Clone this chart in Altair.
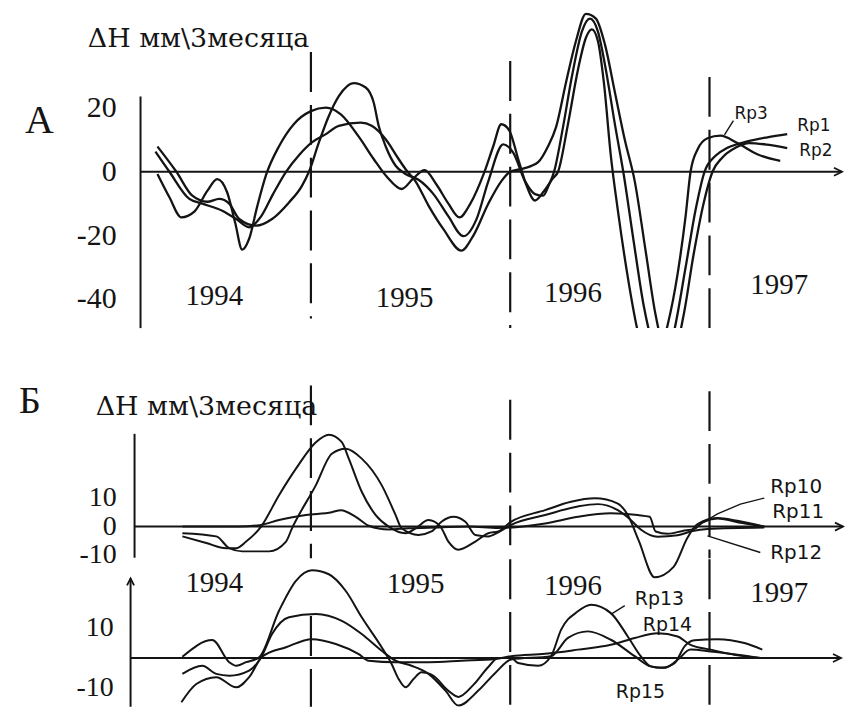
import altair as alt
import pandas as pd

# ---------------- Panel A (Rp1, Rp2, Rp3) ----------------
A_T_RP3 = [1994.23, 1994.29, 1994.35, 1994.415, 1994.48, 1994.53, 1994.58, 1994.62, 1994.655, 1994.69,
           1994.73, 1994.775, 1994.84, 1994.915, 1995.0, 1995.075, 1995.15, 1995.24, 1995.315, 1995.38,
           1995.455, 1995.515, 1995.57, 1995.63, 1995.69, 1995.745, 1995.80, 1995.865, 1995.915, 1995.955,
           1995.995, 1996.04, 1996.08, 1996.125, 1996.17, 1996.215, 1996.24, 1996.29, 1996.34, 1996.38,
           1996.41, 1996.44, 1996.47, 1996.505, 1996.54, 1996.59, 1996.64, 1996.69, 1996.74, 1996.79,
           1996.84, 1996.88, 1996.905, 1996.94, 1996.99, 1997.055, 1997.14, 1997.24, 1997.355]
A_V_RP3 = [-0.7, -8, -14.3, -12.5, -6, -2.3, -6.5, -16, -24.4, -21,
           -11, -1, 8, 15, 19, 20.1, 18, 11, 4, -1.5,
           -5.4, -2, 0.5, -4, -10, -14.3, -10, -1, 8, 14.9,
           13, 4, -4, -9, -6, -2, 0, 15, 32, 42,
           44.6, 41, 28, 5, -12, -33, -50, -60, -58, -48,
           -32, -14, 0, 7, 10.5, 11.3, 9, 5.5, 3.4]

A_T_RP1 = [1994.23, 1994.325, 1994.405, 1994.48, 1994.54, 1994.59, 1994.64, 1994.725, 1994.805, 1994.89,
           1994.955, 1994.99, 1995.04, 1995.09, 1995.14, 1995.215, 1995.275, 1995.315, 1995.34, 1995.375,
           1995.425, 1995.475, 1995.54, 1995.615, 1995.69, 1995.765, 1995.83, 1995.89, 1995.965, 1996.015,
           1996.075, 1996.125, 1996.165, 1996.195, 1996.22, 1996.265, 1996.31, 1996.36, 1996.40, 1996.44,
           1996.48, 1996.525, 1996.57, 1996.62, 1996.67, 1996.72, 1996.765, 1996.815, 1996.88, 1996.93,
           1996.975, 1997.03, 1997.09, 1997.19, 1997.29, 1997.39]
A_V_RP1 = [7.9, 0, -7.5, -9.4, -8.5, -10, -14.8, -16.9, -14.8, -9.6,
           -4.4, 0, 9.2, 17.5, 23.7, 27.8, 26.4, 21.7, 14.4, 8,
           1.9, -0.7, -2.5, -7, -14, -20.2, -15, -3, 8.6, 6,
           -3, -7, -7.5, -4, 0, 14, 30, 44, 48, 44,
           32, 15, -1, -22, -42, -55, -60, -52, -30, -12,
           0, 5, 7.5, 9.5, 10.8, 11.8]

A_T_RP2 = [1994.22, 1994.29, 1994.39, 1994.455, 1994.555, 1994.625, 1994.69, 1994.75, 1994.81, 1994.875,
           1994.94, 1995.005, 1995.075, 1995.14, 1995.25, 1995.305, 1995.375, 1995.44, 1995.475, 1995.525,
           1995.59, 1995.665, 1995.755, 1995.815, 1995.89, 1995.955, 1996.0, 1996.065, 1996.14, 1996.19,
           1996.23, 1996.28, 1996.33, 1996.38, 1996.43, 1996.475, 1996.525, 1996.575, 1996.625, 1996.68,
           1996.73, 1996.78, 1996.83, 1996.87, 1996.92, 1996.97, 1997.015, 1997.065, 1997.13, 1997.20,
           1997.29, 1997.39]
A_V_RP2 = [6.3, 0, -8.5, -10, -12.2, -14.8, -17.4, -14, -7, 0,
           5.2, 9.2, 11.8, 14.4, 15.4, 14.4, 10.2, 4, 0.8, -3,
           -10.6, -18, -24.7, -20, -10, -3, 0, 1, 3, 8,
           14, 28, 41, 49.5, 48, 40, 25, 10, -3, -25,
           -45, -56, -55, -45, -26, -10, 0, 4.5, 7.5, 9,
           8.5, 7.4]

# ---------------- Panel Б upper (Rp10, Rp11, Rp12) ----------------
BU_T_RP12 = [1994.355, 1994.475, 1994.575, 1994.625, 1994.675, 1994.75, 1994.84, 1994.925, 1995.025, 1995.09,
             1995.155, 1995.19, 1995.255, 1995.325, 1995.39, 1995.475, 1995.525, 1995.59, 1995.65, 1995.69,
             1995.74, 1995.825, 1995.89, 1995.94, 1996.005, 1996.175, 1996.305, 1996.425, 1996.54, 1996.59,
             1996.645, 1996.725, 1996.82, 1996.89, 1996.94, 1997.04, 1997.14, 1997.275]
BU_V_RP12 = [-3.4, -5.7, -7.5, -7.5, -5.2, 0, 10.9, 20.1, 29.3, 31.9,
             29.3, 23.6, 12.1, 4, 0, -2.3, -0.6, 2.3, 0, -5.2,
             -8, -5.2, -2.3, -1.7, 1.7, 5.7, 8.6, 9.8, 8, 4,
             -4.9, -17.6, -14, -3.8, 0.9, 3, 2, 0]

BU_T_RP11 = [1994.355, 1994.525, 1994.59, 1994.655, 1994.79, 1994.875, 1994.905, 1995.025, 1995.105, 1995.175,
             1995.255, 1995.355, 1995.425, 1995.455, 1995.54, 1995.605, 1995.655, 1995.715, 1995.775, 1995.825,
             1995.89, 1995.94, 1996.005, 1996.175, 1996.34, 1996.44, 1996.54, 1996.605, 1996.655, 1996.74,
             1996.84, 1996.915, 1996.99, 1997.275]
BU_V_RP11 = [-2.3, -3.4, -7.5, -8.6, -8.6, -5.2, -0.6, 14.4, 25.3, 27,
             23.6, 14.4, 4, -0.6, -2.9, -1.7, 1.7, 3.4, 1.7, -2.9,
             -3.4, -2, 0.6, 4, 7, 7.8, 5.7, 2.3, -1, -3.5,
             -3, -1.5, -0.8, -0.3]

BU_T_RP10 = [1994.355, 1994.64, 1994.75, 1994.84, 1994.975, 1995.105, 1995.15, 1995.225, 1995.29, 1995.39,
             1995.49, 1995.64, 1995.79, 1995.94, 1996.175, 1996.34, 1996.505, 1996.64, 1996.70, 1996.73,
             1996.79, 1996.865, 1996.925, 1996.965, 1997.04, 1997.165, 1997.275]
BU_V_RP10 = [0, 0, 0.6, 2.3, 4, 5, 5.7, 3.4, 0.3, -1,
             -0.6, -0.3, 0, -0.5, 1.1, 3.4, 4.6, 4, 3.4, -1.7,
             -2.5, -1.5, -0.8, 1.5, 2.8, 1.2, 0]

# ---------------- Panel Б lower (Rp13, Rp14, Rp15) ----------------
BL_T_RP13 = [1994.355, 1994.505, 1994.59, 1994.625, 1994.675, 1994.74, 1994.84, 1994.925, 1995.005, 1995.09,
             1995.175, 1995.255, 1995.355, 1995.405, 1995.44, 1995.475, 1995.515, 1995.555, 1995.615, 1995.69,
             1995.74, 1995.815, 1995.89, 1995.94, 1996.005, 1996.04, 1996.14, 1996.205, 1996.255, 1996.34,
             1996.405, 1996.505, 1996.59, 1996.655, 1996.705, 1996.755, 1996.825, 1996.875, 1996.925, 1997.04,
             1997.175, 1997.265]
BL_V_RP13 = [0.4, 6, -1.4, -2.6, -1.4, 0.2, 15.8, 25.8, 29.3, 28,
             22.4, 13.6, 3.6, -2, -7, -9.8, -7, -4.8, -6, -11,
             -13, -9, -3, 0, 0, -1.7, -2.6, 0.6, 9.4, 15.6,
             17.8, 15, 7.2, 0.6, -2.8, -3.3, -1.7, 3.9, 5.9, 6.3,
             5, 2.8]

BL_T_RP15 = [1994.355, 1994.455, 1994.525, 1994.59, 1994.69, 1994.75, 1994.805, 1994.89, 1995.025, 1995.155,
             1995.255, 1995.355, 1995.425, 1995.505, 1995.59, 1995.675, 1995.74, 1995.84, 1995.925, 1996.005,
             1996.205, 1996.29, 1996.39, 1996.505, 1996.625, 1996.705, 1996.775, 1996.84, 1996.905, 1997.005,
             1997.14, 1997.255]
BL_V_RP15 = [-5.3, -2.6, -5.3, -5.9, -4.2, 0.2, 8, 13.6, 14.7, 12.4,
             8, 2.4, -0.9, -2.6, -5.3, -10.9, -15.9, -10.9, -5, -0.5,
             0.6, 6.7, 8.9, 6.1, 0.6, -2.8, -3.3, -0.6, 2.8, 2.2,
             1.1, 0]

BL_T_RP14 = [1994.35, 1994.425, 1994.525, 1994.625, 1994.69, 1994.755, 1994.875, 1995.005, 1995.125, 1995.24,
             1995.29, 1995.425, 1995.59, 1995.755, 1995.925, 1996.005, 1996.175, 1996.34, 1996.505, 1996.625,
             1996.74, 1996.84, 1996.905, 1997.005, 1997.125, 1997.255]
BL_V_RP14 = [-14.8, -8.7, -6.4, -9.8, -6.4, 0.4, 3.6, 6.3, 4.7, 1.3,
             -0.9, -1.4, -1.4, -0.9, -0.3, 0.6, 1.4, 2.8, 4.4, 6.7,
             8.3, 7.2, 4.4, 2.8, 1.1, 0]

# ---------------- Text, year boundaries and frame elements ----------------
YEARS = ["1994", "1995", "1996", "1997"]
A_YEAR_T = [1994.515, 1995.47, 1996.315, 1997.35]
A_YEAR_V = [-39, -39.7, -38.1, -35.6]
B_YEAR_T = [1994.515, 1995.525, 1996.315, 1997.35]
B_YEAR_V = [24.9, 24.6, 23.9, 21.6]

A_TICK_LABELS = ["20", "0", "-20", "-40"]
A_TICK_V = [20, 0, -20, -40]
BU_TICK_LABELS = ["10", "0", "-10"]
BU_TICK_V = [10, 0, -10]
BL_TICK_LABELS = ["10", "-10"]
BL_TICK_V = [10, -10]

BOUNDARY_T = [1995.0, 1996.0, 1997.0]
A_BOUND_TOP = [37.5, 34.7, 29.7]
A_BOUND_BOTTOM = [-46, -49, -49]
BU_BOUND_TOP = [49, 44, 47]
BU_BOUND_BOTTOM = [-11, -11, -11]
BL_BOUND_TOP = [14, 33, 33]
BL_BOUND_BOTTOM = [-16.3, -16.3, -16.3]

A_RP_LABELS = ["Rp3", "Rp1", "Rp2"]
A_RP_T = [1997.125, 1997.44, 1997.45]
A_RP_V = [18.1, 14.4, 6.6]
BU_RP_LABELS = ["Rp10", "Rp11", "Rp12"]
BU_RP_T = [1997.305, 1997.315, 1997.305]
BU_RP_V = [13.6, 4.9, -9.3]
BL_RP_LABELS = ["Rp13", "Rp14", "Rp15"]
BL_RP_T = [1996.625, 1996.665, 1996.53]
BL_RP_V = [19.6, 11.0, -11.3]

UNIT_TITLE = "ΔH мм\\3месяца"

X_DOMAIN = [1994.095, 1997.675]
PLOT_W = 716
INK = "#141414"
SERIF = "Liberation Serif"
TITLE_FONT = "DejaVu Serif, Liberation Serif, serif"


def curves_df(series):
    rows = []
    for name, ts, vs in series:
        for t, v in zip(ts, vs):
            rows.append({"s": name, "t": t, "v": v})
    return pd.DataFrame(rows)


def panel(curves, ydom, height, tick_labels, tick_v, tick_t, label_size, bounds_top, bounds_bottom,
          axis_t, axis_top, axis_bottom, zero_from, zero_to,
          years_t, years_v, rp_labels, rp_t, rp_v, rp_size,
          texts, leaders, up_arrow=None, stroke=2.2, clip=True):
    xs = alt.Scale(domain=X_DOMAIN, nice=False, zero=False)
    ys = alt.Scale(domain=ydom, nice=False, zero=False)
    yaxis = alt.Axis(values=[0], title=None, domain=False, ticks=False, grid=False,
                     labels=False, minExtent=123, maxExtent=123)

    def X(f="t"):
        return alt.X(f"{f}:Q", scale=xs, axis=None)

    def Y(f="v"):
        return alt.Y(f"{f}:Q", scale=ys, axis=yaxis)

    layers = []
    layers.append(
        alt.Chart(curves_df(curves)).mark_line(color=INK, strokeWidth=stroke, interpolate="monotone",
                                               clip=clip)
        .encode(x=X(), y=Y(), detail="s:N")
    )
    bdf = pd.DataFrame({"t": BOUNDARY_T, "v": bounds_top, "v2": bounds_bottom})
    layers.append(
        alt.Chart(bdf).mark_rule(color=INK, strokeWidth=2.2, strokeDash=[40, 13])
        .encode(x=X(), y=Y(), y2=alt.Y2("v2:Q"))
    )
    adf = pd.DataFrame({"t": [axis_t], "v": [axis_top], "v2": [axis_bottom]})
    layers.append(
        alt.Chart(adf).mark_rule(color=INK, strokeWidth=2)
        .encode(x=X(), y=Y(), y2=alt.Y2("v2:Q"))
    )
    zdf = pd.DataFrame({"t": [zero_from], "t2": [zero_to], "v": [0]})
    layers.append(
        alt.Chart(zdf).mark_rule(color=INK, strokeWidth=2)
        .encode(x=X(), x2=alt.X2("t2:Q"), y=Y())
    )
    hdf = pd.DataFrame({"t": [zero_to], "v": [0]})
    layers.append(
        alt.Chart(hdf).mark_point(shape="M -1 -0.5 L 0 0 L -1 0.5", size=260, filled=False,
                                  stroke=INK, strokeWidth=1.8, opacity=1)
        .encode(x=X(), y=Y())
    )
    if up_arrow is not None:
        udf = pd.DataFrame({"t": [up_arrow[0]], "v": [up_arrow[1]]})
        layers.append(
            alt.Chart(udf).mark_point(shape="M -0.5 1 L 0 0 L 0.5 1", size=200, filled=False,
                                      stroke=INK, strokeWidth=1.8, opacity=1)
            .encode(x=X(), y=Y())
        )
    tkdf = pd.DataFrame({"t": [tick_t] * len(tick_v), "v": tick_v, "label": tick_labels})
    layers.append(
        alt.Chart(tkdf).mark_text(font=SERIF, fontSize=label_size, align="right",
                                  baseline="middle", color=INK)
        .encode(x=X(), y=Y(), text="label:N")
    )
    if years_t:
        ydf = pd.DataFrame({"t": years_t, "v": years_v, "label": YEARS})
        layers.append(
            alt.Chart(ydf).mark_text(font=SERIF, fontSize=29, align="center",
                                     baseline="middle", color=INK)
            .encode(x=X(), y=Y(), text="label:N")
        )
    rdf = pd.DataFrame({"t": rp_t, "v": rp_v, "label": rp_labels})
    layers.append(
        alt.Chart(rdf).mark_text(font="DejaVu Sans", fontSize=rp_size, align="left",
                                 baseline="middle", color=INK)
        .encode(x=X(), y=Y(), text="label:N")
    )
    for label, t, v, size, font in texts:
        tdf = pd.DataFrame({"t": [t], "v": [v], "label": [label]})
        layers.append(
            alt.Chart(tdf).mark_text(font=font, fontSize=size, align="left",
                                     baseline="middle", color=INK)
            .encode(x=X(), y=Y(), text="label:N")
        )
    if leaders:
        rows = []
        for g, pts in enumerate(leaders):
            for t, v in pts:
                rows.append({"g": g, "t": t, "v": v})
        layers.append(
            alt.Chart(pd.DataFrame(rows)).mark_line(color=INK, strokeWidth=1.4)
            .encode(x=X(), y=Y(), detail="g:N")
        )
    return alt.layer(*layers).properties(width=PLOT_W, height=height)


panel_a = panel(
    curves=[("Rp1", A_T_RP1, A_V_RP1), ("Rp2", A_T_RP2, A_V_RP2), ("Rp3", A_T_RP3, A_V_RP3)],
    ydom=[-49, 50], height=317, tick_labels=A_TICK_LABELS, tick_v=A_TICK_V, tick_t=1994.025,
    label_size=30,
    bounds_top=A_BOUND_TOP, bounds_bottom=A_BOUND_BOTTOM,
    axis_t=1994.145, axis_top=23.6, axis_bottom=-49,
    zero_from=1994.145, zero_to=1997.665,
    years_t=A_YEAR_T, years_v=A_YEAR_V,
    rp_labels=A_RP_LABELS, rp_t=A_RP_T, rp_v=A_RP_V, rp_size=17,
    texts=[("А", 1993.565, 15.9, 40, SERIF), (UNIT_TITLE, 1993.88, 41.5, 27, TITLE_FONT)],
    leaders=[[(1997.075, 11.6), (1997.12, 16.0)]],
    stroke=2.3,
)

panel_bu = panel(
    curves=[("Rp10", BU_T_RP10, BU_V_RP10), ("Rp11", BU_T_RP11, BU_V_RP11), ("Rp12", BU_T_RP12, BU_V_RP12)],
    ydom=[-11, 35], height=133, tick_labels=BU_TICK_LABELS, tick_v=BU_TICK_V, tick_t=1994.025,
    label_size=28,
    bounds_top=BU_BOUND_TOP, bounds_bottom=BU_BOUND_BOTTOM,
    axis_t=1994.115, axis_top=32.2, axis_bottom=-10.8,
    zero_from=1994.115, zero_to=1997.67,
    years_t=[], years_v=[],
    rp_labels=BU_RP_LABELS, rp_t=BU_RP_T, rp_v=BU_RP_V, rp_size=20,
    texts=[("Б", 1993.535, 43.3, 38, SERIF), (UNIT_TITLE, 1993.92, 41.6, 27, TITLE_FONT)],
    leaders=[[(1996.915, -0.8), (1997.04, 4.4), (1997.155, 7.8), (1997.275, 9.9)],
             [(1996.99, -3.2), (1997.255, -9.0)]],
    stroke=2.0, clip=False,
)

panel_bl = panel(
    curves=[("Rp13", BL_T_RP13, BL_V_RP13), ("Rp14", BL_T_RP14, BL_V_RP14), ("Rp15", BL_T_RP15, BL_V_RP15)],
    ydom=[-16.3, 32], height=145, tick_labels=BL_TICK_LABELS, tick_v=BL_TICK_V, tick_t=1994.01,
    label_size=28,
    bounds_top=BL_BOUND_TOP, bounds_bottom=BL_BOUND_BOTTOM,
    axis_t=1994.095, axis_top=26.6, axis_bottom=-16.3,
    zero_from=1994.095, zero_to=1997.66,
    years_t=B_YEAR_T, years_v=B_YEAR_V,
    rp_labels=BL_RP_LABELS, rp_t=BL_RP_T, rp_v=BL_RP_V, rp_size=19,
    texts=[],
    leaders=[[(1996.575, 17.5), (1996.505, 14.6)]],
    up_arrow=(1994.095, 26.6),
    stroke=2.0,
)

panel_b = alt.vconcat(panel_bu, panel_bl, spacing=4, bounds="flush").resolve_scale(y="independent")

chart = (
    alt.vconcat(panel_a, panel_b, spacing=98, bounds="flush")
    .resolve_scale(y="independent")
    .properties(padding={"left": 0, "top": 3, "right": 0, "bottom": 0}, background="white")
    .configure_view(strokeWidth=0)
)

chart.save("out.html", embed_options={"renderer": "svg", "actions": False})
